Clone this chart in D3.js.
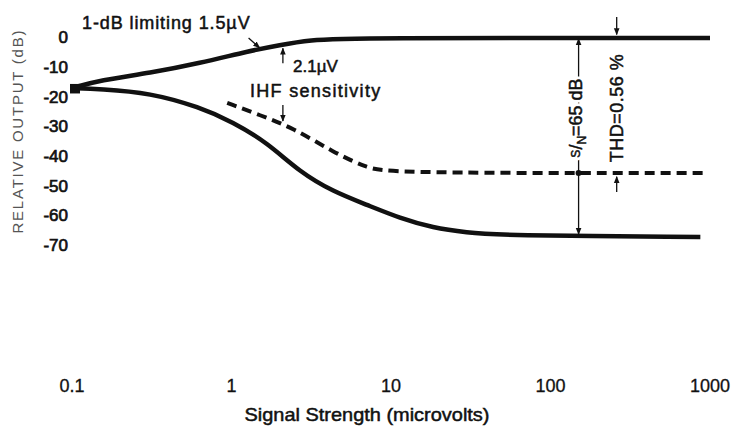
<!DOCTYPE html>
<html>
<head>
<meta charset="utf-8">
<script src="https://cdn.jsdelivr.net/npm/d3@7"></script>
<style>
  body { margin: 0; background: #fff; }
  svg { display: block; }
  text { font-family: "Liberation Sans", Arial, sans-serif; fill: #111; stroke: #111; stroke-width: 0.5px; }
</style>
</head>
<body>
<div id="chart"></div>
<script>
var width = 731;
var height = 427;

// signal strength (microvolts) / relative output (dB)
var signalV  = [0.1, 0.15, 0.31, 0.63, 1.3, 2.0, 3.1, 5.5, 1000];
var signalDb = [-17.2, -14.5, -12.1, -8.8, -4.7, -2.7, -1.0, -0.3, -0.3];

var noiseV  = [0.1, 0.15, 0.31, 0.63, 1.02, 1.67, 2.69, 4.33, 7.08, 11.4, 18.3, 29.9, 48.2, 870];
var noiseDb = [-17.2, -17.5, -18.8, -23.6, -28.6, -35.5, -45.5, -52, -56.5, -61, -64.2, -65.8, -66.8, -67.3];

var distV  = [0.94, 1.51, 2.43, 4.33, 7.08, 9.86, 930];
var distDb = [-22.2, -26.3, -30.6, -38.7, -44.1, -45.8, -45.8];

var xTicks = [0.1, 1, 10, 100, 1000];
var xTickLabels = ["0.1", "1", "10", "100", "1000"];
var yTicks = [0, -10, -20, -30, -40, -50, -60, -70];

var limitV = 1.5, ihfV = 2.1, snV = 150, thdV = 260;

var x = d3.scaleLog().domain([0.1, 1000]).range([72, 710]);
var y = d3.scaleLinear().domain([0, -70]).range([37, 245]);

var svg = d3.select("#chart").append("svg")
  .attr("width", width)
  .attr("height", height);

var defs = svg.append("defs");
defs.append("marker")
  .attr("id", "arr")
  .attr("viewBox", "0 0 10 10")
  .attr("refX", 9).attr("refY", 5)
  .attr("markerWidth", 7).attr("markerHeight", 8)
  .attr("markerUnits", "userSpaceOnUse")
  .attr("orient", "auto-start-reverse")
  .append("path")
  .attr("d", "M0,1 L10,5 L0,9 Z")
  .attr("fill", "#111");

// axes (tick labels only, no lines)
svg.append("g")
  .selectAll("text")
  .data(yTicks)
  .enter()
  .append("text")
  .attr("x", 68)
  .attr("y", function(d) { return y(d); })
  .attr("dy", "0.36em")
  .attr("text-anchor", "end")
  .attr("font-size", "17px")
  .style("stroke-width", "0.7px")
  .text(function(d) { return d; });

svg.append("g")
  .selectAll("text")
  .data(xTicks)
  .enter()
  .append("text")
  .attr("x", function(d) { return x(d); })
  .attr("y", 392)
  .attr("text-anchor", "middle")
  .attr("font-size", "18px")
  .style("stroke-width", "0.3px")
  .text(function(d, i) { return xTickLabels[i]; });

svg.append("text")
  .attr("transform", "translate(23," + 132 + ") rotate(-90)")
  .attr("text-anchor", "middle")
  .attr("font-size", "15px")
  .attr("textLength", 203)
  .attr("lengthAdjust", "spacing")
  .style("fill", "#555")
  .style("stroke", "none")
  .text("RELATIVE OUTPUT  (dB)");

svg.append("text")
  .attr("x", 367)
  .attr("y", 421)
  .attr("text-anchor", "middle")
  .attr("font-size", "19px")
  .attr("textLength", 245)
  .attr("lengthAdjust", "spacingAndGlyphs")
  .text("Signal Strength (microvolts)");

// curves
var line = d3.line()
  .x(function(d) { return x(d[0]); })
  .y(function(d) { return y(d[1]); })
  .curve(d3.curveBasis);

function zip(a, b) { return a.map(function(v, i) { return [v, b[i]]; }); }

svg.append("path")
  .attr("d", line(zip(signalV, signalDb)))
  .attr("fill", "none")
  .attr("stroke", "#111")
  .attr("stroke-width", 4.5);

svg.append("path")
  .attr("d", line(zip(noiseV, noiseDb)))
  .attr("fill", "none")
  .attr("stroke", "#111")
  .attr("stroke-width", 4.5);

svg.append("path")
  .attr("d", line(zip(distV, distDb)))
  .attr("fill", "none")
  .attr("stroke", "#111")
  .attr("stroke-width", 4)
  .attr("stroke-dasharray", "10,6");

// start blob where both curves meet
svg.append("rect")
  .attr("x", x(0.1) - 2)
  .attr("y", y(-15.8))
  .attr("width", 10)
  .attr("height", y(-19) - y(-15.8))
  .attr("fill", "#111");

// annotations
function arrow(x1, y1, x2, y2, both) {
  var p = svg.append("line")
    .attr("x1", x1).attr("y1", y1)
    .attr("x2", x2).attr("y2", y2)
    .attr("stroke", "#111")
    .attr("stroke-width", 1.3)
    .attr("marker-end", "url(#arr)");
  if (both) p.attr("marker-start", "url(#arr)");
  return p;
}

svg.append("text")
  .attr("x", 82).attr("y", 29)
  .attr("font-size", "18px")
  .attr("letter-spacing", "0.9px")
  .text("1-dB limiting 1.5\u00b5V");
arrow(x(limitV) - 11, y(0) + 1, x(limitV), y(-3.6));

arrow(x(ihfV), y(-8.8), x(ihfV), y(-3.8));
svg.append("text")
  .attr("x", 293).attr("y", 72)
  .attr("font-size", "17px")
  .text("2.1\u00b5V");

svg.append("text")
  .attr("x", 250).attr("y", 97)
  .attr("font-size", "18px")
  .attr("letter-spacing", "1.3px")
  .text("IHF sensitivity");
arrow(x(ihfV), y(-22.9), x(ihfV), y(-28.3));

// S/N double arrow, label sits on the line
arrow(x(snV), y(-0.6), x(snV), y(-66.4), true);
svg.append("circle")
  .attr("cx", x(snV)).attr("cy", y(-45.8))
  .attr("r", 3).attr("fill", "#111");

function snLabel(halo) {
  var t = svg.append("text")
    .attr("transform", "translate(" + x(snV) + "," + 118 + ") rotate(-90)")
    .attr("text-anchor", "middle")
    .attr("dy", "0.35em")
    .attr("font-size", "18px");
  if (halo) t.style("stroke", "#fff").style("stroke-width", "6px").style("fill", "#fff");
  t.append("tspan").attr("font-size", "12px").attr("dy", "0.1em").text("S");
  t.append("tspan").attr("dy", "0.15em").text("/");
  t.append("tspan").attr("font-size", "12px").attr("dy", "0.3em").text("N");
  t.append("tspan").attr("dy", "-0.2em").text("=65 dB");
}
snLabel(true);
snLabel(false);

// THD arrows, label between them
arrow(x(thdV), y(6.7), x(thdV), y(0.8));
arrow(x(thdV), y(-52.2), x(thdV), y(-47));
svg.append("text")
  .attr("transform", "translate(" + x(thdV) + "," + 108 + ") rotate(-90)")
  .attr("text-anchor", "middle")
  .attr("dy", "0.35em")
  .attr("font-size", "18px")
  .attr("letter-spacing", "0.5px")
  .text("THD=0.56 %");
</script>
</body>
</html>
